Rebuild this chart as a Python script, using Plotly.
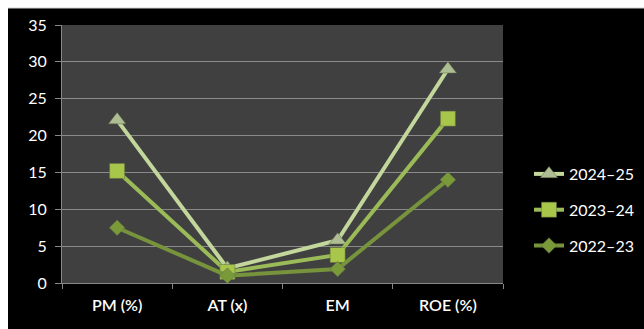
import plotly.graph_objects as go

categories = ["PM (%)", "AT (x)", "EM", "ROE (%)"]
series_names = ["2024–25", "2023–24", "2022–23"]
v_2024_25 = [22.1, 2.0, 5.8, 29.0]
v_2023_24 = [15.2, 1.5, 3.8, 22.3]
v_2022_23 = [7.5, 1.0, 1.9, 14.0]
y_ticks = [0, 5, 10, 15, 20, 25, 30, 35]

line_colors = ["#c3d69b", "#9bbb59", "#77933c"]
marker_colors = ["#aebd93", "#a8c64a", "#7a9a3a"]
symbols = ["triangle-up", "square", "diamond"]
sizes = [15, 15, 12]

fig = go.Figure()
for name, vals, lc, mc, sym, sz in zip(series_names, [v_2024_25, v_2023_24, v_2022_23],
                                       line_colors, marker_colors, symbols, sizes):
    fig.add_trace(go.Scatter(
        x=categories, y=vals, name=name, mode="lines+markers", legendgroup=name,
        line=dict(color=lc, width=4),
        marker=dict(symbol=sym, size=sz, color=mc, line=dict(color="#5e6e45", width=0.5)),
    ))

W, H = 644, 329
L, R, T, B = 62, 141, 25, 46
pw, ph = W - L - R, H - T - B

def px_x(p):
    return (p - L) / pw

def px_y(p):
    return (H - B - p) / ph

fig.update_layout(
    width=W, height=H,
    margin=dict(l=L, r=R, t=T, b=B, autoexpand=False),
    paper_bgcolor="black",
    plot_bgcolor="#404040",
    font=dict(family="Lato, Open Sans, sans-serif", color="white", size=14),
    showlegend=True,
    legend=dict(x=px_x(529), y=px_y(210), xanchor="left", yanchor="middle",
                bgcolor="rgba(0,0,0,0)", font=dict(size=16, color="white"),
                itemsizing="trace", tracegroupgap=12),
    xaxis=dict(type="category", tickson="boundaries", ticks="outside", ticklen=5,
               tickcolor="#888888", showgrid=False, showline=True, linecolor="#888888",
               linewidth=1, ticklabelstandoff=8,
               tickfont=dict(size=16, color="white", family="Lato Semibold, Lato, sans-serif"),
               range=[-0.5, 3.5], fixedrange=True),
    yaxis=dict(range=[0, 35], tickvals=y_ticks, ticks="outside", ticklen=6,
               tickcolor="#888888", showgrid=True, gridcolor="#8a8a8a", gridwidth=1,
               showline=True, linecolor="#888888", zeroline=False,
               ticklabelstandoff=5, tickfont=dict(size=16, color="white")),
    shapes=[
        dict(type="rect", xref="paper", yref="paper", x0=px_x(0), x1=px_x(W),
             y0=px_y(8), y1=px_y(0), fillcolor="white", line=dict(width=0), layer="above"),
        dict(type="rect", xref="paper", yref="paper", x0=px_x(0), x1=px_x(8),
             y0=px_y(H), y1=px_y(0), fillcolor="white", line=dict(width=0), layer="above"),
        dict(type="line", xref="paper", yref="paper", x0=px_x(8), x1=px_x(W),
             y0=px_y(8), y1=px_y(8), line=dict(color="#d0d0d0", width=1), layer="above"),
    ],
)

fig.write_html("out.html")
